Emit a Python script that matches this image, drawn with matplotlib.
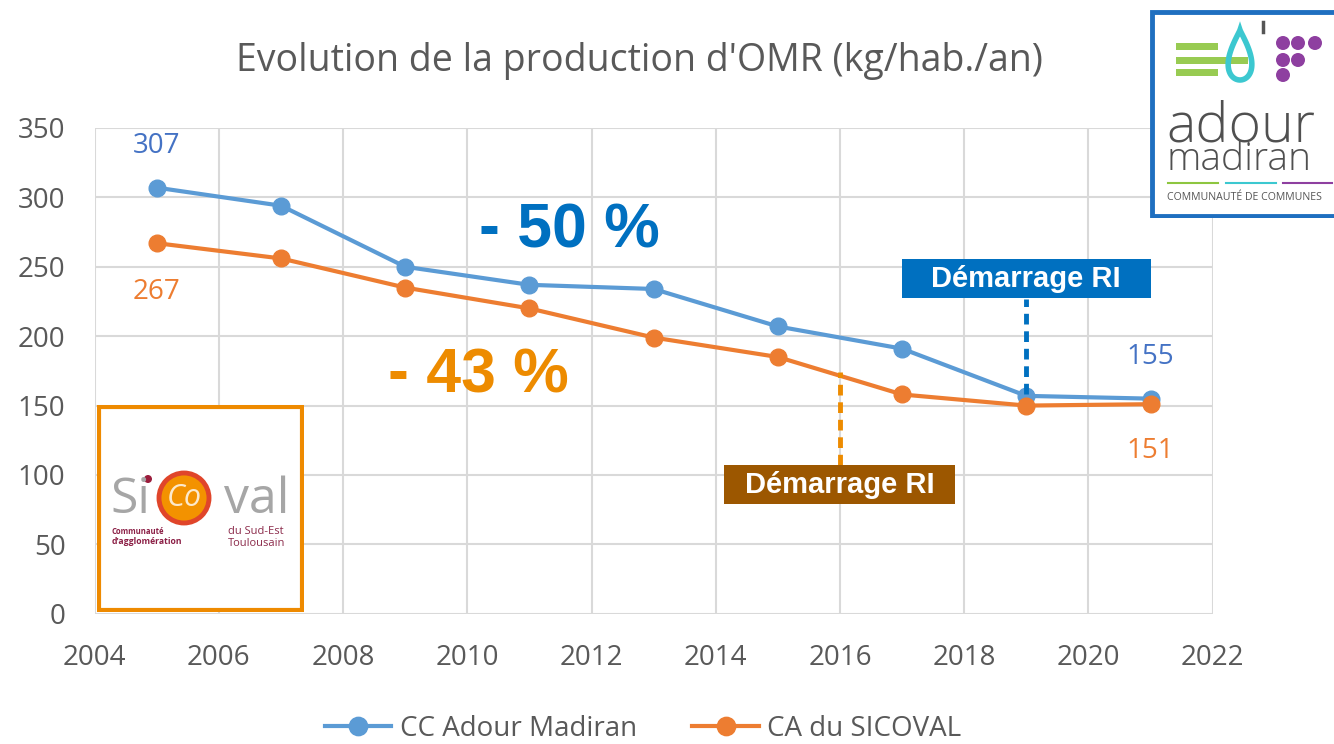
import numpy as np
import matplotlib
matplotlib.use("Agg")
import matplotlib.pyplot as plt
from matplotlib.patches import Rectangle, Circle, Polygon

plt.rcParams['font.family'] = ['Open Sans', 'DejaVu Sans']

# Données
annees = [2005, 2007, 2009, 2011, 2013, 2015, 2017, 2019, 2021]
adour_madiran = [307, 294, 250, 237, 234, 207, 191, 157, 155]
sicoval = [267, 256, 235, 220, 199, 185, 158, 150, 151]
noms_series = ['CC Adour Madiran', 'CA du SICOVAL']
titre = "Evolution de la production d'OMR (kg/hab./an)"
annee_ri_adour = 2019
annee_ri_sicoval = 2016

bleu = '#5B9BD5'
orange = '#ED7D31'
gris_txt = '#595959'
arial = ['Liberation Sans', 'DejaVu Sans']

fig = plt.figure(figsize=(13.34, 7.44), dpi=100)
ax = fig.add_axes([0.071, 0.175, 0.838, 0.653])

ax.plot(annees, adour_madiran, '-o', color=bleu, lw=3, ms=12, label=noms_series[0], zorder=3)
ax.plot(annees, sicoval, '-o', color=orange, lw=3, ms=12, label=noms_series[1], zorder=3)

ax.set_xlim(2004, 2022)
ax.set_ylim(0, 350)
ax.set_xticks(np.arange(2004, 2023, 2))
ax.set_yticks(np.arange(0, 351, 50))
ax.grid(True, color='#D9D9D9', lw=1.5)
ax.set_axisbelow(True)
for s in ax.spines.values():
    s.set_visible(False)
ax.tick_params(length=0, labelsize=20, colors=gris_txt)
ax.tick_params(axis='y', pad=21)
ax.tick_params(axis='x', pad=22)

# étiquettes de valeurs
ax.text(annees[0], 337, str(adour_madiran[0]), color='#4472C4', fontsize=20, ha='center', va='center')
ax.text(annees[0], 232, str(sicoval[0]), color=orange, fontsize=20, ha='center', va='center')
ax.text(annees[-1], 185, str(adour_madiran[-1]), color='#4472C4', fontsize=20, ha='center', va='center')
ax.text(annees[-1], 117, str(sicoval[-1]), color=orange, fontsize=20, ha='center', va='center')

# pourcentages
ax.text(2011.65, 276, '- 50 %', color='#0070C0', fontsize=45, fontweight='bold',
        ha='center', va='center', family=arial)
ax.text(2010.17, 171, '- 43 %', color='#ED8B00', fontsize=45, fontweight='bold',
        ha='center', va='center', family=arial)

# Démarrage RI
ax.plot([annee_ri_adour] * 2, [158, 227], ls=(0, (2.2, 1.4)), color='#0070C0', lw=3.5, zorder=4)
ax.add_patch(Rectangle((annee_ri_adour - 2, 227.5), 4, 28, fc='#0070C0', ec='none', zorder=5))
ax.text(annee_ri_adour, 241.5, 'Démarrage RI', color='white', fontsize=21, fontweight='bold',
        ha='center', va='center', family=arial, zorder=6)
ax.plot([annee_ri_sicoval] * 2, [107, 174], ls=(0, (2.2, 1.4)), color='#ED8B00', lw=3.5, zorder=4)
ax.add_patch(Rectangle((annee_ri_sicoval - 1.86, 79), 3.72, 28, fc='#9C5700', ec='none', zorder=5))
ax.text(annee_ri_sicoval, 93, 'Démarrage RI', color='white', fontsize=21, fontweight='bold',
        ha='center', va='center', family=arial, zorder=6)

fig.text(0.479, 0.918, titre, ha='center', va='center', fontsize=27, color=gris_txt)

fig.legend(loc='center', bbox_to_anchor=(0.482, 0.02), ncol=2, frameon=False,
           fontsize=20, labelcolor=gris_txt, handlelength=2.4, handletextpad=0.3,
           columnspacing=2.0, markerscale=1.1)

# logo Adour Madiran (en pixels)
lg = fig.add_axes([1150 / 1334, 1 - 218 / 744, 184 / 1334, 208 / 744])
lg.set_xlim(1150, 1334)
lg.set_ylim(218, 10)
lg.axis('off')
lg.add_patch(Rectangle((1152, 12), 200, 204, fc='white', ec='#1F6FC0', lw=3.5))
for yb, x1 in [(46.5, 1218), (60.5, 1248), (72.5, 1218)]:
    lg.add_patch(Rectangle((1176, yb - 3.5), x1 - 1176, 7, fc='#8DC63F', ec='none', alpha=0.9))
t = np.linspace(0, 2 * np.pi, 80)
goutte = np.column_stack([1240 + 16 * np.sin(t) * np.sin(t / 2) ** 1.2, 55 - 25 * np.cos(t)])
lg.add_patch(Polygon(goutte, closed=True, fill=False, ec='#3CC8D0', lw=4))
lg.plot([1263, 1263], [22, 32], color='#555555', lw=2.5)
for gx, gy in [(1283, 43), (1298, 43), (1315, 43), (1283, 60), (1298, 60), (1283, 75)]:
    lg.add_patch(Circle((gx, gy), 7, fc='#8E3FA0', ec='none'))
lg.text(1166, 141, 'adour', fontsize=40, color='#505050', va='baseline', ha='left',
        fontweight='light')
lg.text(1167, 170, 'madiran', fontsize=28, color='#505050', va='baseline', ha='left',
        fontweight='light')
for x0, x1, c in [(1168, 1218, '#8DC63F'), (1226, 1276, '#3CC8D0'), (1283, 1332, '#8E3FA0')]:
    lg.plot([x0, x1], [183, 183], color=c, lw=1.5)
lg.text(1167, 198, 'COMMUNAUTÉ DE COMMUNES', fontsize=7.6, color='#555555', va='center', ha='left')

# logo Sicoval
sc = fig.add_axes([97 / 1334, 1 - 612 / 744, 207 / 1334, 207 / 744])
sc.set_xlim(0, 207)
sc.set_ylim(207, 0)
sc.axis('off')
sc.add_patch(Rectangle((2, 2), 203, 203, fc='white', ec='#EE8A00', lw=3))
sc.add_patch(Circle((87, 93), 26, fc='#F39200', ec='none'))
sc.add_patch(Circle((87, 93), 25, fc='none', ec='#E0452A', lw=3.5))
sc.add_patch(Circle((51, 74), 4, fc='#9B1D3C', ec='none'))
sc.text(13, 108, 'Si', fontsize=36, color='#A6A6A6', va='baseline', ha='left')
sc.text(127, 108, 'val', fontsize=36, color='#A6A6A6', va='baseline', ha='left')
sc.text(87, 93, 'Co', fontsize=22, color='#FCE9CC', va='center', ha='center', style='italic')
sc.text(15, 127, 'Communauté', fontsize=5.5, color='#8B1E45', fontweight='bold', va='center')
sc.text(15, 137, "d'agglomération", fontsize=6.2, color='#8B1E45', fontweight='bold', va='center')
sc.text(131, 126, 'du Sud-Est', fontsize=8, color='#8B2A4A', va='center')
sc.text(131, 138, 'Toulousain', fontsize=8, color='#8B2A4A', va='center')

fig.savefig('out.png', dpi=100)
